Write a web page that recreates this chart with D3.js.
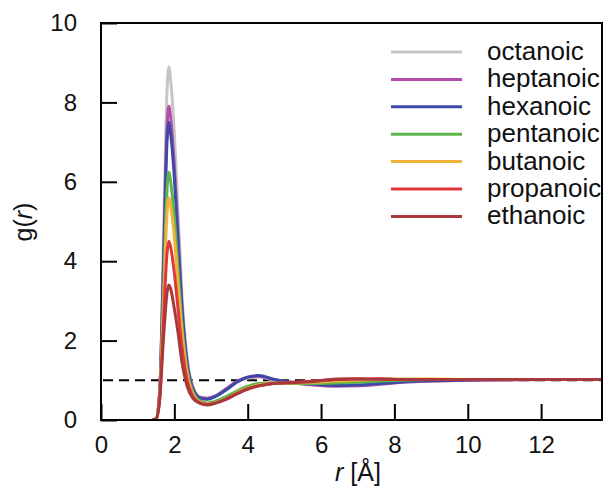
<!DOCTYPE html>
<html>
<head>
<meta charset="utf-8">
<script src="https://cdn.jsdelivr.net/npm/d3@7"></script>
<style>
  html, body { margin: 0; padding: 0; background: #fff; }
  svg { display: block; font-family: "Liberation Sans", Arial, Helvetica, sans-serif; }
</style>
</head>
<body>
<svg id="chart" width="604" height="492"></svg>
<script>
// ---- data ----
const rValues = [1.4, 1.5, 1.6, 1.7, 1.8, 1.85, 1.9, 2.0, 2.1, 2.2, 2.35, 2.5, 2.7, 2.9, 3.1, 3.4, 3.7, 4.0, 4.3, 4.7, 5.2, 5.8, 6.4, 7.0, 7.6, 8.2, 9.0, 10, 11, 12, 13, 13.66];

const octanoic   = [0, 0.03, 0.75, 4.4, 8.3, 8.9, 8.55, 7.2, 5.3, 3.3, 1.55, 0.85, 0.58, 0.55, 0.6, 0.77, 0.95, 1.06, 1.08, 1.01, 0.94, 0.89, 0.87, 0.88, 0.91, 0.95, 0.98, 1.0, 1.01, 1.02, 1.02, 1.02];
const heptanoic  = [0, 0.03, 0.7, 3.9, 7.4, 7.9, 7.6, 6.4, 4.7, 3.0, 1.45, 0.82, 0.57, 0.55, 0.6, 0.78, 0.97, 1.08, 1.1, 1.02, 0.94, 0.88, 0.85, 0.86, 0.9, 0.95, 0.98, 1.0, 1.01, 1.02, 1.02, 1.02];
const hexanoic   = [0, 0.03, 0.7, 3.7, 7.0, 7.5, 7.2, 6.1, 4.5, 2.9, 1.4, 0.8, 0.55, 0.52, 0.58, 0.75, 0.95, 1.08, 1.12, 1.03, 0.95, 0.9, 0.87, 0.88, 0.92, 0.96, 0.99, 1.01, 1.02, 1.02, 1.02, 1.02];
const pentanoic  = [0, 0.03, 0.65, 3.1, 5.8, 6.25, 6.0, 5.1, 3.8, 2.5, 1.25, 0.72, 0.48, 0.43, 0.47, 0.58, 0.73, 0.85, 0.92, 0.93, 0.92, 0.92, 0.93, 0.95, 0.98, 1.0, 1.02, 1.02, 1.02, 1.02, 1.02, 1.02];
const butanoic   = [0, 0.03, 0.6, 2.8, 5.2, 5.6, 5.4, 4.6, 3.4, 2.3, 1.15, 0.66, 0.45, 0.4, 0.43, 0.53, 0.68, 0.8, 0.88, 0.92, 0.93, 0.95, 0.98, 1.0, 1.03, 1.03, 1.03, 1.02, 1.02, 1.02, 1.02, 1.02];
const propanoic  = [0, 0.02, 0.55, 2.4, 4.2, 4.5, 4.35, 3.7, 2.8, 1.9, 1.0, 0.6, 0.43, 0.39, 0.42, 0.52, 0.66, 0.78, 0.86, 0.92, 0.95, 0.98, 1.03, 1.04, 1.03, 1.02, 1.02, 1.02, 1.02, 1.02, 1.02, 1.02];
const ethanoic   = [0, 0.02, 0.5, 2.0, 3.2, 3.4, 3.3, 2.8, 2.2, 1.5, 0.85, 0.55, 0.42, 0.38, 0.42, 0.52, 0.66, 0.78, 0.86, 0.92, 0.94, 0.97, 1.02, 1.03, 1.03, 1.02, 1.02, 1.02, 1.02, 1.02, 1.02, 1.02];

const seriesNames  = ["octanoic", "heptanoic", "hexanoic", "pentanoic", "butanoic", "propanoic", "ethanoic"];
const seriesValues = [octanoic, heptanoic, hexanoic, pentanoic, butanoic, propanoic, ethanoic];
const seriesColors = ["#c6c6c6", "#b24dac", "#3d49a6", "#5cb54a", "#f1b23b", "#e0373b", "#a9383d"];

const xTicks = [0, 2, 4, 6, 8, 10, 12];
const yTicks = [0, 2, 4, 6, 8, 10];
const referenceLevel = 1;

// ---- layout ----
const svg = d3.select("#chart");
const padL = 101, padR = 602, padT = 23, padB = 420;

const x = d3.scaleLinear().domain([0, 13.66]).range([padL, padR]);
const y = d3.scaleLinear().domain([0, 10]).range([padB, padT]);

svg.append("defs").append("clipPath").attr("id", "clip")
  .append("rect").attr("x", padL).attr("y", padT).attr("width", padR - padL).attr("height", padB - padT);

// reference dashed line
svg.append("line")
  .attr("x1", x(0) + 2).attr("x2", padR)
  .attr("y1", y(referenceLevel)).attr("y2", y(referenceLevel))
  .attr("stroke", "#000").attr("stroke-width", 2)
  .attr("stroke-dasharray", "10,6");

// curves
const line = d3.line()
  .x((d, i) => x(rValues[i]))
  .y(d => y(d))
  .curve(d3.curveMonotoneX);

const gCurves = svg.append("g").attr("clip-path", "url(#clip)");
seriesValues.forEach((vals, k) => {
  gCurves.append("path")
    .attr("d", line(vals))
    .attr("fill", "none")
    .attr("stroke", seriesColors[k])
    .attr("stroke-width", 3)
    .attr("stroke-linejoin", "round");
});

// axes
const xAxis = d3.axisBottom(x).tickValues(xTicks).tickFormat(d3.format("d"))
  .tickSizeInner(-16).tickSizeOuter(0).tickPadding(16);
const yAxis = d3.axisLeft(y).tickValues(yTicks).tickFormat(d3.format("d"))
  .tickSizeInner(-16).tickSizeOuter(0).tickPadding(24);

const gx = svg.append("g").attr("transform", `translate(0,${padB})`).call(xAxis);
const gy = svg.append("g").attr("transform", `translate(${padL},0)`).call(yAxis);
[gx, gy].forEach(g => {
  g.select(".domain").remove();
  g.selectAll(".tick line").attr("stroke", "#000").attr("stroke-width", 2);
  g.selectAll(".tick text").attr("fill", "#111").style("font-size", "24px")
    .style("font-family", '"Liberation Sans", Arial, sans-serif');
});

// frame
svg.append("rect")
  .attr("x", padL).attr("y", padT).attr("width", padR - padL).attr("height", padB - padT)
  .attr("fill", "none").attr("stroke", "#000").attr("stroke-width", 2);

// axis titles
const xt = svg.append("text").attr("x", 358).attr("y", 481).attr("text-anchor", "middle")
  .style("font-size", "25px").attr("fill", "#111");
xt.append("tspan").style("font-style", "italic").text("r");
xt.append("tspan").text(" [Å]");

const yt = svg.append("text").attr("transform", "translate(32,222) rotate(-90)")
  .attr("text-anchor", "middle").style("font-size", "25px").attr("fill", "#111");
yt.append("tspan").text("g(");
yt.append("tspan").style("font-style", "italic").text("r");
yt.append("tspan").text(")");

// legend
const legend = svg.append("g");
seriesNames.forEach((name, k) => {
  const ly = 52 + k * 27.4;
  legend.append("line").attr("x1", 391).attr("x2", 462).attr("y1", ly).attr("y2", ly)
    .attr("stroke", seriesColors[k]).attr("stroke-width", 3);
  legend.append("text").attr("x", 487).attr("y", ly + 8)
    .style("font-size", "26px").attr("fill", "#111").text(name);
});
</script>
</body>
</html>
